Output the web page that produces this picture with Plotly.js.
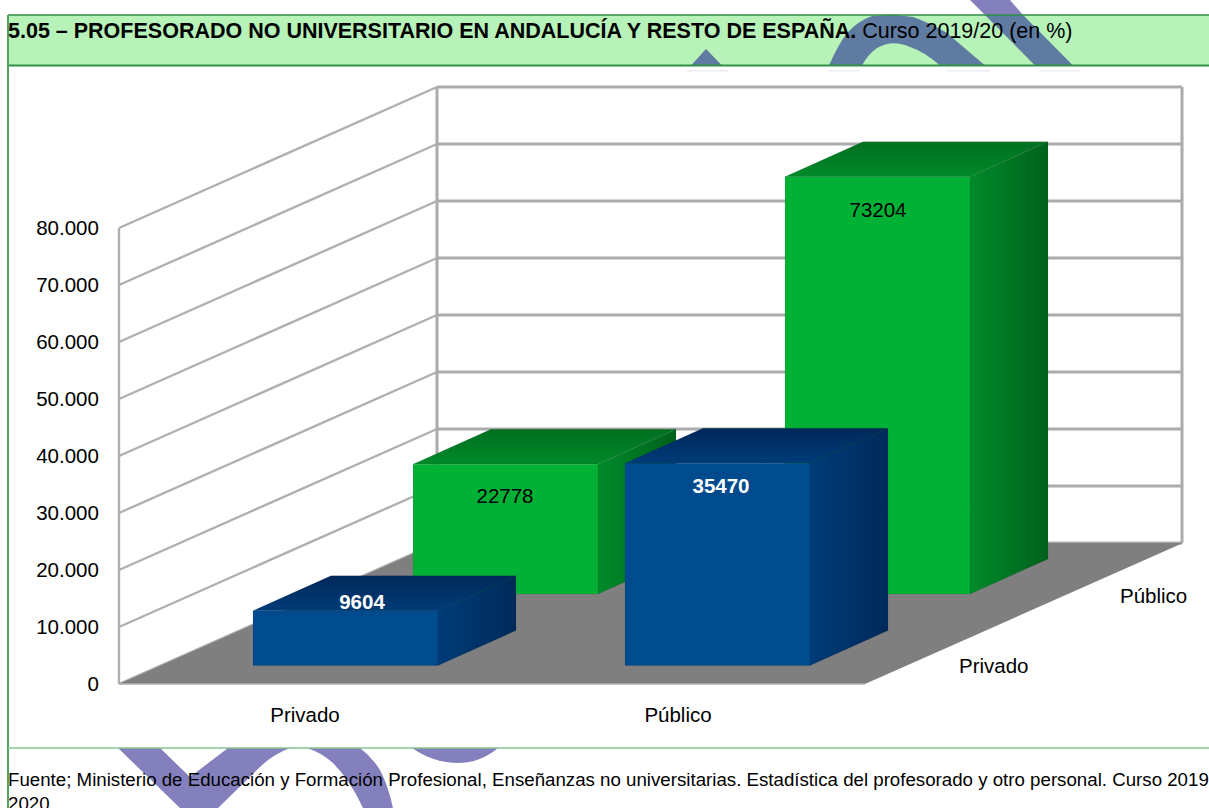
<!DOCTYPE html>
<html><head><meta charset="utf-8">
<script src="https://cdn.plot.ly/plotly-3.0.1.min.js"></script>
<style>html,body{margin:0;padding:0;background:#fff;overflow:hidden}#c{width:1209px;height:808px}</style>
</head><body><div id="c"></div>
<script>
// ---- data ----
const categories = ['Privado', 'Público'];
const seriesNames = ['Andalucía', 'Resto de España'];
const andalucia = [9604, 35470];
const restoEspana = [22778, 73204];
const axisTicks = [0, 10000, 20000, 30000, 40000, 50000, 60000, 70000, 80000];
const axisTickLabels = ['0', '10.000', '20.000', '30.000', '40.000', '50.000', '60.000', '70.000', '80.000'];

// ---- oblique projection (x is in plot units, y in value units + a lift) ----
const K = 0.0057;                 // px per value unit
const lift = (v, px) => v + px / K;
const FLOOR = {x0: 119, depthX: 318, depthY: 141, xRight: 1182};
const BAR = {w: 185, dx: 78, dy: 35};
const ROW = [
  {x: [253, 625], base: 665.5, front: '#004b8e', side: ['#003c78', '#002a5a'], top: ['#00285a', '#003c78'], text: '#ffffff', bold: true,
   lab: [[362, 7], [721, -25]]},
  {x: [413, 785], base: 594, front: '#00b135', side: ['#008a2a', '#00611c'], top: ['#006f20', '#008a2a'], text: '#000000', bold: false,
   lab: [[505, -34], [878, -35]]}
];
const values = [andalucia, restoEspana];
const BASE0 = 684;

const traces = [];
const noHover = {hoverinfo: 'skip', showlegend: false};

// gridlines
const gx = [], gy = [], bx = [], by = [];
axisTicks.forEach(t => {
  gx.push(FLOOR.x0, FLOOR.x0 + FLOOR.depthX, null);
  gy.push(t, lift(t, FLOOR.depthY), null);
  bx.push(FLOOR.x0 + FLOOR.depthX, FLOOR.xRight, null);
  by.push(lift(t, FLOOR.depthY), lift(t, FLOOR.depthY), null);
});
const topTick = axisTicks[axisTicks.length - 1];
gx.push(FLOOR.x0, FLOOR.x0, null);
gy.push(0, topTick, null);
bx.push(FLOOR.x0 + FLOOR.depthX, FLOOR.x0 + FLOOR.depthX, null, FLOOR.xRight, FLOOR.xRight, null);
by.push(lift(0, FLOOR.depthY), lift(topTick, FLOOR.depthY), null, lift(0, FLOOR.depthY), lift(topTick, FLOOR.depthY), null);
traces.push(Object.assign({type: 'scatter', mode: 'lines', x: gx, y: gy, line: {color: '#b0b0b0', width: 2.4}}, noHover));
traces.push(Object.assign({type: 'scatter', mode: 'lines', x: bx, y: by, line: {color: '#ababab', width: 3}}, noHover));

// floor
traces.push(Object.assign({type: 'scatter', mode: 'lines', fill: 'toself', fillcolor: '#7f7f7f',
  x: [FLOOR.x0, FLOOR.x0 + FLOOR.depthX, FLOOR.xRight + 1, FLOOR.xRight + 1 - FLOOR.depthX, FLOOR.x0],
  y: [0, lift(0, FLOOR.depthY), lift(0, FLOOR.depthY), 0, 0],
  line: {width: 0, color: '#7f7f7f'}}, noHover));
traces.push(Object.assign({type: 'scatter', mode: 'lines',
  x: [FLOOR.x0, FLOOR.xRight + 1 - FLOOR.depthX], y: [0, 0],
  line: {width: 1.5, color: '#b0b0b0'}}, noHover));

// bars, back row first
function addBar(s, c) {
  const r = ROW[s], v = values[s][c], x = r.x[c], up = BASE0 - r.base, nm = seriesNames[s] + ' – ' + categories[c];
  const face = (xs, ys, extra) => traces.push(Object.assign({type: 'scatter', mode: 'lines', x: xs, y: ys, fill: 'toself',
    name: nm, line: {width: 0.6, color: 'rgba(0,0,0,0.12)'}, showlegend: false, hoverinfo: 'skip'}, extra));
  const yF = lift(v, up), yB = lift(v, up + BAR.dy), y0F = lift(0, up), y0B = lift(0, up + BAR.dy);
  // side
  face([x + BAR.w, x + BAR.w + BAR.dx, x + BAR.w + BAR.dx, x + BAR.w, x + BAR.w],
       [yF, yB, y0B, y0F, yF],
       {fillgradient: {type: 'horizontal', colorscale: [[0, r.side[0]], [1, r.side[1]]]}});
  // top
  face([x, x + BAR.w, x + BAR.w + BAR.dx, x + BAR.dx, x],
       [yF, yF, yB, yB, yF],
       {fillgradient: {type: 'vertical', colorscale: [[0, r.top[1]], [1, r.top[0]]]}});
  // front
  face([x, x + BAR.w, x + BAR.w, x, x], [y0F, y0F, yF, yF, y0F], {fillcolor: r.front});
}
[1, 0].forEach(s => [0, 1].forEach(c => addBar(s, c)));

// value labels
const FONT = 'Liberation Sans, Arial, sans-serif';
const FS = 20.5;
[1, 0].forEach(s => {
  const r = ROW[s], up = BASE0 - r.base;
  traces.push(Object.assign({type: 'scatter', mode: 'text',
    x: r.lab.map(l => l[0]),
    y: values[s].map((v, c) => lift(v, up + r.lab[c][1])),
    text: values[s].map((v, c) => r.bold ? '<b>' + v + '</b>' : String(v)),
    textposition: 'middle center',
    textfont: {family: FONT, size: FS, color: r.text}}, noHover));
});

// ---- decoration: page frame and the watermark strokes ----
const PURPLE = '#8480bd', SLATE = '#5f7ba1';
const pathShape = (d, c) => ({type: 'path', xref: 'x', yref: 'paper', layer: 'below', path: d, fillcolor: c, line: {width: 0}});
const Y = px => 1 - px / 808;
const P = (pts) => 'M' + pts.map(p => p[0] + ' ' + Y(p[1])).join(' L') + ' Z';
const C = (d) => d.replace(/(-?[\d.]+),(-?[\d.]+)/g, (m, a, b) => a + ' ' + Y(+b));
const rect = (x0, y0, x1, y1, c) => ({type: 'rect', xref: 'x', yref: 'paper', layer: 'below', x0, x1, y0: Y(y1), y1: Y(y0), fillcolor: c, line: {width: 0}});

const shapes = [
  // upper watermark, above the band
  pathShape(P([[970, 0], [1010, 0], [1023, 15], [985, 15]]), PURPLE),
  // band
  rect(8, 15, 1209, 65.5, '#b7f2b9'),
  // upper watermark inside the band
  pathShape(P([[691, 65.5], [706, 49], [722, 65.5]]), SLATE),
  pathShape(C('M829,65.5 Q838,45 847,33 Q858,21 872,16 L892,14.5 L913,17 Q930,23 947,33 L985,65.5 L940,65.5 Q925,52 910,47 Q892,39 877,48 Q868,54 862,65.5 Z'), SLATE),
  pathShape(P([[985, 15], [1023, 15], [1073, 65.5], [1035, 65.5]]), SLATE),
  // faint traces below the band
  rect(687, 70, 728, 71.5, '#ebebf5'), rect(828, 70, 859, 71.5, '#ebebf5'),
  rect(947, 70, 990, 71.5, '#ebebf5'), rect(1040, 70, 1080, 71.5, '#ebebf5'),
  // lower watermark
  pathShape(C('M118,748 L160,748 L190,777 L228,748 L290,748 Q272,755 260,767 L218,808 L180,808 Z'), PURPLE),
  pathShape(C('M307,748 Q322,753 333,763 Q350,780 363,808 L393,808 Q388,785 380,770 Q372,757 360,748 Z'), PURPLE),
  pathShape(C('M412,748 Q434,763 458,763 Q480,763 498,748 Z'), PURPLE),
  // frame lines
  {type: 'line', xref: 'x', yref: 'paper', layer: 'below', x0: 8, x1: 1209, y0: Y(15), y1: Y(15), line: {color: '#2f9144', width: 1.5}},
  {type: 'line', xref: 'x', yref: 'paper', layer: 'below', x0: 8, x1: 1209, y0: Y(65.5), y1: Y(65.5), line: {color: '#2f9144', width: 2}},
  {type: 'line', xref: 'x', yref: 'paper', layer: 'below', x0: 8, x1: 8, y0: Y(15), y1: Y(808), line: {color: '#4fa65e', width: 2}},
  {type: 'line', xref: 'x', yref: 'paper', layer: 'below', x0: 8, x1: 1209, y0: Y(748), y1: Y(748), line: {color: '#85c58f', width: 1.5}}
];

const layout = {
  width: 1209, height: 808,
  margin: {l: 0, r: 0, t: 0, b: 0, pad: 0},
  paper_bgcolor: '#ffffff', plot_bgcolor: 'rgba(0,0,0,0)',
  showlegend: false, hovermode: false,
  font: {family: FONT, size: FS, color: '#000'},
  title: {
    text: '<b>5.05 – PROFESORADO NO UNIVERSITARIO EN ANDALUCÍA Y RESTO DE ESPAÑA.</b> Curso 2019/20 (en %)',
    x: 8 / 1209, xanchor: 'left', y: Y(30), yanchor: 'middle', xref: 'paper', yref: 'paper',
    pad: {t: 0, b: 0, l: 0, r: 0},
    font: {family: FONT, size: 21.5, color: '#000'}
  },
  xaxis: {
    domain: [0, 1], range: [0, 1209], anchor: 'free', position: 124 / 808,
    tickmode: 'array', tickvals: [305, 678], ticktext: categories,
    ticks: 'outside', ticklen: 12, tickcolor: 'rgba(0,0,0,0)', showline: false, showgrid: false, zeroline: false,
    tickangle: 0, tickfont: {family: FONT, size: FS, color: '#000'}, fixedrange: true
  },
  yaxis: {
    domain: [0, 1], range: [-124 / K, 684 / K], anchor: 'free', position: 119 / 1209,
    tickmode: 'array', tickvals: axisTicks, ticktext: axisTickLabels,
    ticks: 'outside', ticklen: 16, tickcolor: 'rgba(0,0,0,0)', showline: false, showgrid: false, zeroline: false,
    tickfont: {family: FONT, size: FS, color: '#000'}, fixedrange: true
  },
  shapes,
  annotations: [
    {xref: 'x', yref: 'paper', x: 1153, y: Y(595), text: 'Público', showarrow: false, xanchor: 'center', yanchor: 'middle', font: {family: FONT, size: FS}},
    {xref: 'x', yref: 'paper', x: 994, y: Y(665), text: 'Privado', showarrow: false, xanchor: 'center', yanchor: 'middle', font: {family: FONT, size: FS}},
    {xref: 'x', yref: 'paper', x: 7, y: Y(768), align: 'left', borderpad: 0, showarrow: false, xanchor: 'left', yanchor: 'top',
     text: 'Fuente; Ministerio de Educación y Formación Profesional, Enseñanzas no universitarias. Estadística del profesorado y otro personal. Curso 2019', font: {family: FONT, size: 18.7}},
    {xref: 'x', yref: 'paper', x: 7, y: Y(792), align: 'left', borderpad: 0, showarrow: false, xanchor: 'left', yanchor: 'top',
     text: '2020', font: {family: FONT, size: 18.7}}
  ]
};
Plotly.newPlot('c', traces, layout, {displayModeBar: false, staticPlot: true});
</script></body></html>
